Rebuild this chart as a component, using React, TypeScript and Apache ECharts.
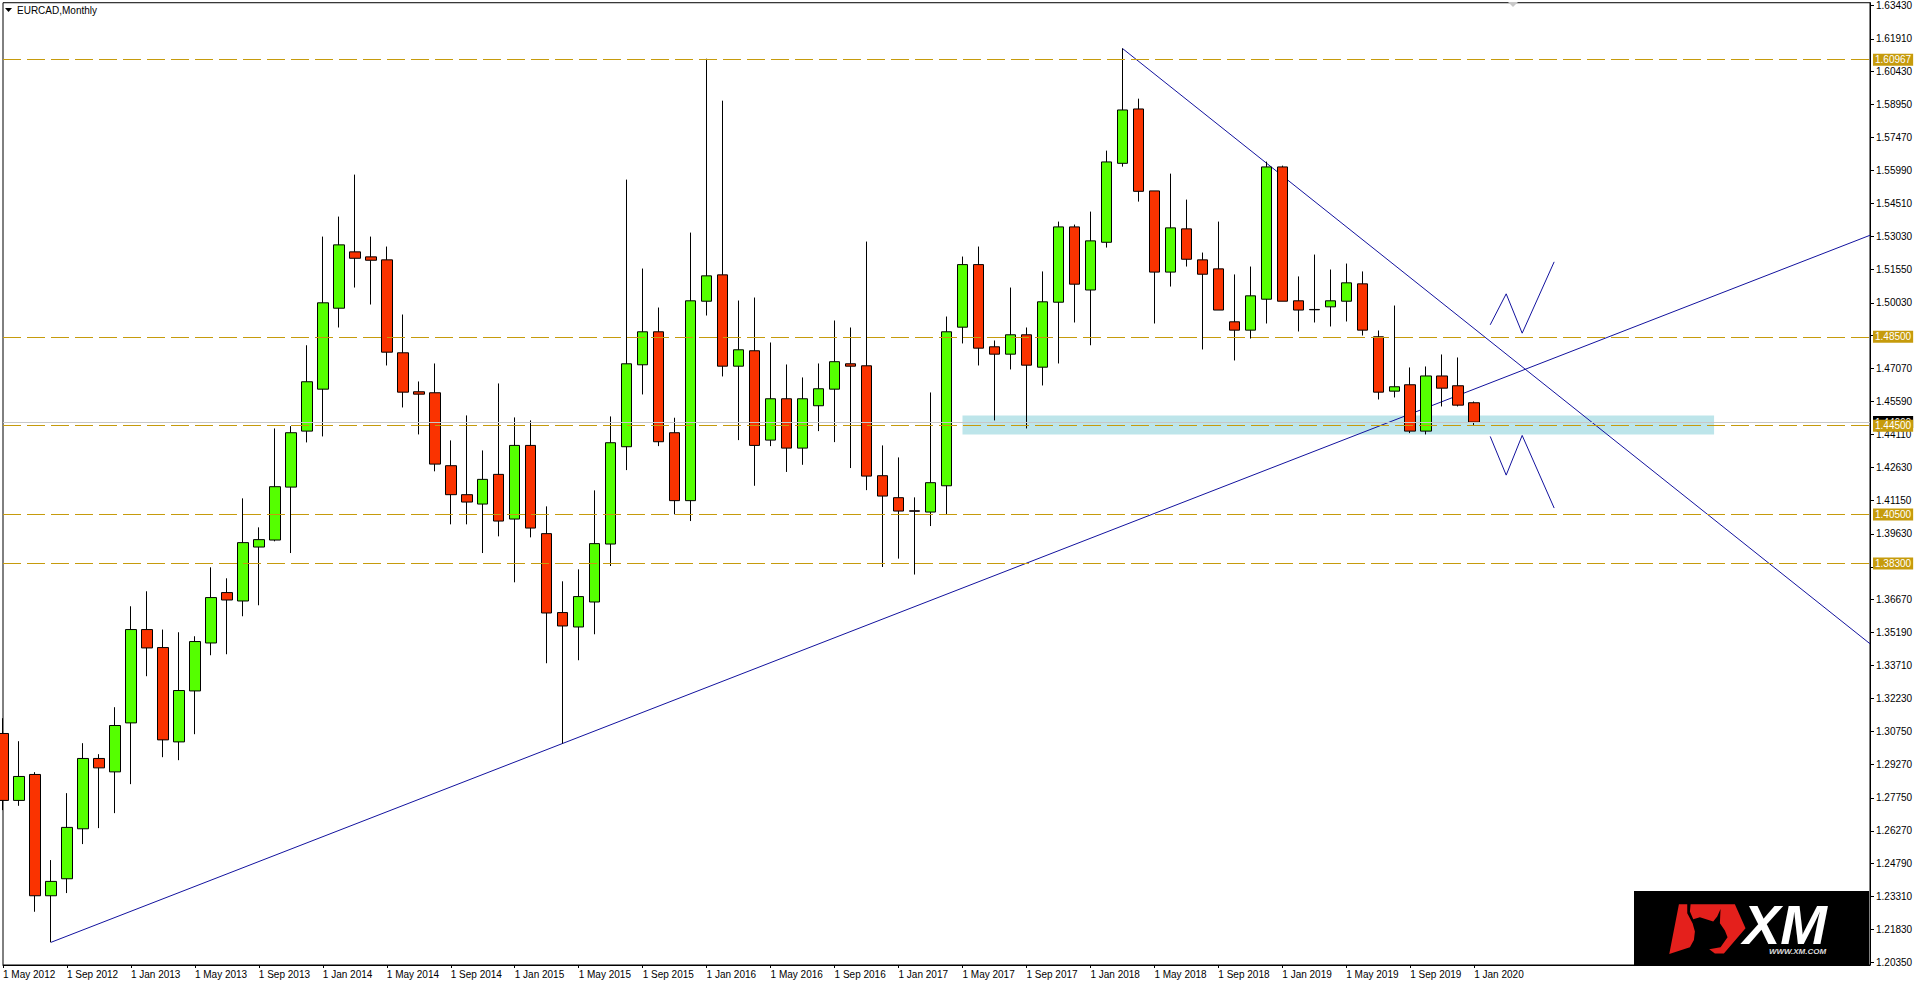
import React, { useEffect, useRef } from "react";
import * as echarts from "echarts";

const LABEL_FONT = '"Liberation Sans", sans-serif';
const symbolTitle = "EURCAD,Monthly";

const opens = [
  1.30649, 1.27637, 1.28805, 1.23347, 1.24112, 1.2636, 1.29525, 1.28922, 1.31125, 1.35326,
  1.34516, 1.3027, 1.32564, 1.34722, 1.36989, 1.36611, 1.39039, 1.39354, 1.41736, 1.44255,
  1.46143, 1.49786, 1.52321, 1.52096, 1.51962, 1.4778, 1.46026, 1.45981, 1.42699, 1.41395,
  1.40973, 1.42309, 1.40298, 1.43612, 1.39642, 1.3609, 1.35442, 1.36566, 1.39174, 1.43553,
  1.4724, 1.48725, 1.44183, 1.41126, 1.50101, 1.51287, 1.47177, 1.47871, 1.4385, 1.45711,
  1.4349, 1.45397, 1.46143, 1.47285, 1.47195, 1.42249, 1.4126, 1.4067, 1.40613, 1.41796,
  1.48932, 1.51748, 1.4805, 1.47718, 1.4859, 1.47132, 1.50056, 1.53445, 1.50605, 1.52753,
  1.56306, 1.58752, 1.55064, 1.51411, 1.53356, 1.51962, 1.51556, 1.49174, 1.48799, 1.50191,
  1.56143, 1.50119, 1.4973, 1.49848, 1.50101, 1.50883, 1.485, 1.46053, 1.46341, 1.44255,
  1.46737, 1.46296, 1.45532,
];
const closes = [
  1.27637, 1.28715, 1.23347, 1.23993, 1.26423, 1.29525, 1.29102, 1.31008, 1.35326, 1.34498,
  1.30361, 1.32582, 1.34786, 1.36764, 1.36656, 1.39237, 1.39372, 1.41754, 1.44183, 1.46476,
  1.50029, 1.52636, 1.52033, 1.51944, 1.47807, 1.46008, 1.45918, 1.42771, 1.41395, 1.41063,
  1.42084, 1.40208, 1.43612, 1.39893, 1.36071, 1.35487, 1.36809, 1.39192, 1.43733, 1.47285,
  1.48725, 1.43778, 1.41126, 1.50119, 1.51242, 1.47177, 1.47915, 1.43612, 1.45711, 1.4349,
  1.45711, 1.46161, 1.47379, 1.47177, 1.42231, 1.41332, 1.40658, 1.4065, 1.41935, 1.48725,
  1.51748, 1.47988, 1.47718, 1.4859, 1.47222, 1.50074, 1.53445, 1.50867, 1.52816, 1.56368,
  1.58707, 1.55046, 1.51411, 1.53401, 1.51989, 1.51315, 1.49703, 1.48799, 1.50343, 1.56143,
  1.50101, 1.49703, 1.49715, 1.50119, 1.50928, 1.48799, 1.46008, 1.46251, 1.44255, 1.46737,
  1.46188, 1.45424, 1.4466,
];
const highs = [
  1.31337, 1.30302, 1.28909, 1.24952, 1.27964, 1.30213, 1.29718, 1.31831, 1.36373, 1.37048,
  1.35326, 1.35204, 1.35024, 1.38126, 1.37632, 1.41229, 1.39925, 1.44376, 1.4448, 1.48119,
  1.53009, 1.53909, 1.55798, 1.53009, 1.5256, 1.49502, 1.4649, 1.47299, 1.43837, 1.44961,
  1.43387, 1.464, 1.44871, 1.44736, 1.40869, 1.37497, 1.38036, 1.41589, 1.44916, 1.55573,
  1.51571, 1.49817, 1.44857, 1.53189, 1.61013, 1.59125, 1.50132, 1.50267, 1.48243, 1.47254,
  1.4667, 1.47299, 1.49233, 1.48918, 1.52785, 1.43612, 1.43072, 1.41274, 1.45995, 1.49412,
  1.5211, 1.5256, 1.48333, 1.50716, 1.48918, 1.51441, 1.53684, 1.53549, 1.54133, 1.56877,
  1.61476, 1.59215, 1.55064, 1.55842, 1.54673, 1.5229, 1.53684, 1.51306, 1.51661, 1.56382,
  1.56202, 1.51216, 1.522, 1.51526, 1.51795, 1.51441, 1.48783, 1.49907, 1.47119, 1.47164,
  1.47704, 1.47569, 1.4559,
];
const lows = [
  1.272, 1.27394, 1.22627, 1.21251, 1.23468, 1.25672, 1.26391, 1.27065, 1.28369, 1.33226,
  1.29583, 1.29448, 1.30617, 1.3417, 1.34215, 1.35924, 1.36418, 1.39296, 1.38769, 1.43747,
  1.44016, 1.48918, 1.50716, 1.49952, 1.47209, 1.4532, 1.44106, 1.42446, 1.4006, 1.4006,
  1.38769, 1.3952, 1.37452, 1.39475, 1.3381, 1.30199, 1.33945, 1.35114, 1.38185, 1.42501,
  1.45905, 1.4358, 1.40509, 1.40208, 1.49457, 1.46715, 1.4385, 1.41796, 1.4358, 1.42418,
  1.4274, 1.44255, 1.4376, 1.42593, 1.41599, 1.3814, 1.38518, 1.37801, 1.39983, 1.40509,
  1.482, 1.47209, 1.44736, 1.4703, 1.44376, 1.4631, 1.47299, 1.49143, 1.48119, 1.52515,
  1.56157, 1.54583, 1.49098, 1.50761, 1.51661, 1.47929, 1.49703, 1.47434, 1.48423, 1.49098,
  1.50101, 1.48738, 1.49143, 1.48964, 1.49188, 1.48558, 1.4568, 1.4577, 1.44165, 1.44106,
  1.45365, 1.45365, 1.44511,
];

const yTicks = [
  1.6343, 1.6191, 1.6043, 1.5895, 1.5747, 1.5599, 1.5451, 1.5303, 1.5155, 1.5003,
  1.4855, 1.4707, 1.4559, 1.4411, 1.4263, 1.4115, 1.3963, 1.3815, 1.3667, 1.3519,
  1.3371, 1.3223, 1.3075, 1.2927, 1.2775, 1.2627, 1.2479, 1.2331, 1.2183, 1.2035,
];
// The tags of the 1.48500 and 1.38300 levels cover these two tick labels in the reference.
const coveredTicks = [1.4855, 1.3815];
const yLabels = yTicks.filter((v) => !coveredTicks.includes(v));
const xTickLabels = [
  "1 May 2012", "1 Sep 2012", "1 Jan 2013", "1 May 2013", "1 Sep 2013", "1 Jan 2014",
  "1 May 2014", "1 Sep 2014", "1 Jan 2015", "1 May 2015", "1 Sep 2015", "1 Jan 2016",
  "1 May 2016", "1 Sep 2016", "1 Jan 2017", "1 May 2017", "1 Sep 2017", "1 Jan 2018",
  "1 May 2018", "1 Sep 2018", "1 Jan 2019", "1 May 2019", "1 Sep 2019", "1 Jan 2020",
];
const xTickBars = [
  0, 4, 8, 12, 16, 20, 24, 28, 32, 36, 40, 44, 48, 52, 56, 60, 64, 68, 72, 76, 80, 84, 88, 92,
];

const levels = [1.60967, 1.485, 1.445, 1.405, 1.383];
const bidPrice = 1.4466;
const trendUp = [[3, 1.21251], [116.75, 1.53068]];
const trendDown = [[70, 1.61476], [116.75, 1.34687]];
const zigzagUp = [[93, 1.49039], [94, 1.50433], [95, 1.48662], [97, 1.51872]];
const zigzagDown = [[93, 1.44016], [94, 1.42275], [95, 1.44061], [97, 1.40793]];
const zoneBars = [60, 107];
const zonePrices = [1.44961, 1.44107];

const GOLD = "#C69B0C";
const BLUE = "#12129E";

const candles = opens.map((o, i) => [i, o, closes[i], lows[i], highs[i]]);

function blueLine(data: number[][], width = 1) {
  return {
    type: "line",
    data,
    z: 2,
    symbol: "none",
    silent: true,
    lineStyle: { color: BLUE, width },
  };
}

export default function App() {
  const ref = useRef<HTMLDivElement>(null);
  useEffect(() => {
    document.body.style.margin = "0";
    const chart = echarts.init(ref.current!, null, { renderer: "svg" });
    chart.setOption({
      animation: false,
      backgroundColor: "#fff",
      grid: {
        left: 2, top: 2, width: 1868, height: 963,
        show: true, borderColor: "#000", borderWidth: 1, backgroundColor: "#fff",
      },
      xAxis: {
        type: "value", min: 0, max: 116.75, splitLine: { show: false },
        axisLine: { show: true, lineStyle: { color: "#000" } },
        axisTick: { show: true, length: 3, inside: false, lineStyle: { color: "#000" }, customValues: xTickBars },
        axisLabel: {
          customValues: xTickBars, align: "left", margin: 4, color: "#000",
          fontFamily: LABEL_FONT, fontSize: 10,
          hideOverlap: false, showMinLabel: true, showMaxLabel: true,
          formatter: (v: number) => xTickLabels[xTickBars.indexOf(v)] ?? "",
        },
      },
      yAxis: {
        type: "value", position: "right", min: 1.20231, max: 1.63532, scale: true,
        splitLine: { show: false },
        axisLine: { show: true, onZero: false, lineStyle: { color: "#000" } },
        axisTick: { show: true, length: 4, lineStyle: { color: "#000" }, customValues: yTicks },
        axisLabel: {
          customValues: yLabels, margin: 6, color: "#000", fontFamily: LABEL_FONT, fontSize: 10,
          hideOverlap: false, showMinLabel: true, showMaxLabel: true,
          formatter: (v: number) => v.toFixed(5),
        },
      },
      series: [
        {
          type: "line", data: [], z: 1, silent: true,
          markArea: {
            silent: true,
            itemStyle: { color: "#BDE5EA", opacity: 1 },
            data: [[{ xAxis: zoneBars[0], yAxis: zonePrices[0] }, { xAxis: zoneBars[1], yAxis: zonePrices[1] }]],
          },
        },
        {
          type: "line", data: [], z: 1, silent: true,
          markLine: {
            silent: true, symbol: "none", animation: false, precision: 5,
            lineStyle: { color: "#C8C8C8", width: 1, type: "solid" },
            label: {
              show: true, position: "end", distance: 3, backgroundColor: "#000", color: "#fff",
              padding: [1, 2], fontFamily: LABEL_FONT, fontSize: 10,
              formatter: (p: any) => Number(p.value).toFixed(5),
            },
            data: [{ yAxis: bidPrice }],
          },
        },
        blueLine(trendUp),
        blueLine(trendDown),
        blueLine(zigzagUp),
        blueLine(zigzagDown),
        {
          type: "candlestick", data: candles, z: 3, barWidth: 11,
          encode: { x: 0, y: [1, 2, 3, 4] },
          silent: true,
          itemStyle: {
            color: "#55FF00", color0: "#FA3300",
            borderColor: "#000", borderColor0: "#000", borderColorDoji: "#000", borderWidth: 1,
          },
        },
        {
          type: "line", data: [], z: 4, silent: true,
          markLine: {
            silent: true, symbol: "none", animation: false, precision: 5,
            lineStyle: { color: GOLD, width: 1, type: [18, 6] },
            label: {
              show: true, position: "end", distance: 3, backgroundColor: GOLD, color: "#fff",
              padding: [1, 2], fontFamily: LABEL_FONT, fontSize: 10,
              formatter: (p: any) => Number(p.value).toFixed(5),
            },
            data: levels.map((v) => ({ yAxis: v })),
          },
        },
      ],
      graphic: [
        { type: "text", x: 17, y: 5, z: 50, style: { text: symbolTitle, fill: "#000", font: `10px ${LABEL_FONT}` } },
        { type: "polygon", z: 50, shape: { points: [[5, 8], [12, 8], [8.5, 12]] }, style: { fill: "#000" } },
        { type: "polygon", z: 50, shape: { points: [[1508, 2], [1518, 2], [1513, 7]] }, style: { fill: "#C8C8C8" } },
        { type: "rect", z: 50, shape: { x: 1634, y: 891, width: 235, height: 75 }, style: { fill: "#000" } },
        {
          type: "group", x: 1600, y: 860, scaleX: 1 / 3, scaleY: 1 / 3, z: 51,
          children: [
            {
              type: "polygon", z: 51,
              shape: { points: [[237, 133], [262, 133], [262, 160], [278, 190], [285, 215], [282, 240], [270, 262], [208, 282]] },
              style: { fill: "#E4201C" },
            },
            {
              type: "polygon", z: 51,
              shape: { points: [[272, 133], [405, 133], [437, 205], [372, 281], [345, 281], [328, 268], [362, 262], [383, 232], [375, 212], [360, 190], [362, 147], [352, 170], [340, 185], [300, 172], [280, 178], [270, 155]] },
              style: { fill: "#E4201C" },
            },
          ],
        },
        {
          type: "text", x: 1743, y: 904, z: 51,
          style: { text: "XM", fill: "#fff", font: 'italic bold 56px "Liberation Sans"', lineHeight: 40 },
        },
        {
          type: "text", x: 1769, y: 947, z: 51,
          style: { text: "WWW.XM.COM", fill: "#ddd", font: 'italic bold 8px "Liberation Sans"', lineHeight: 9 },
        },
      ],
    });
    return () => chart.dispose();
  }, []);
  return <div ref={ref} style={{ position: "absolute", left: 0, top: 0, width: 1917, height: 983 }} />;
}
